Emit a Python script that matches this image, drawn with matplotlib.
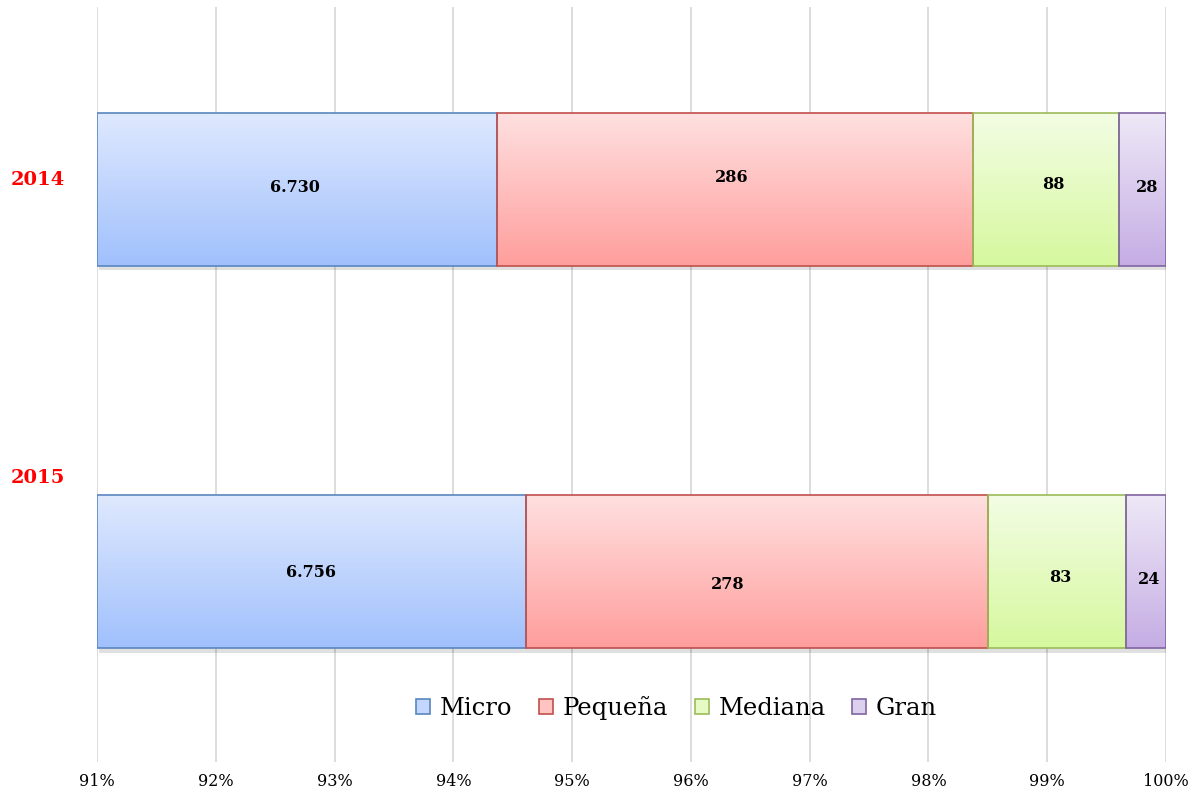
import matplotlib
matplotlib.use("Agg")
import matplotlib.pyplot as plt
import numpy as np
from matplotlib.patches import Rectangle, Patch
from matplotlib.colors import LinearSegmentedColormap

years = ["2014", "2015"]
categories = ["Micro", "Pequeña", "Mediana", "Gran"]
micro = [6730, 6756]
pequena = [286, 278]
mediana = [88, 83]
gran = [28, 24]
labels_2014 = ["6.730", "286", "88", "28"]
labels_2015 = ["6.756", "278", "83", "24"]
xticks = [91, 92, 93, 94, 95, 96, 97, 98, 99, 100]

series = [micro, pequena, mediana, gran]
bar_labels = [labels_2014, labels_2015]

# styling
top_colors = ["#dfe9fe", "#ffe0e0", "#f3fde4", "#eee8f7"]
bot_colors = ["#a0c0fc", "#fe9e9c", "#d6f89e", "#c5ade4"]
mid_colors = ["#c3d6fd", "#ffc3c2", "#e6fbc4", "#dcd0ef"]
edge_colors = ["#5a86c0", "#c0504d", "#9bbb59", "#8064a2"]
# label offsets in points (dx, dy), upward positive
label_offsets = [[(-1, 1), (-2, 8), (5, 3), (3, 1)],
                 [(0, -1), (-21, -9), (2, -4), (2, -6)]]

plt.rcParams['font.family'] = ['DejaVu Serif', 'Liberation Serif']

fig = plt.figure(figsize=(11.99, 7.95), dpi=100)
ax = fig.add_axes([97/1199, 1-762/795, (1166-97)/1199, (762-7)/795])

totals = np.array(micro) + np.array(pequena) + np.array(mediana) + np.array(gran)
bar_h = 0.4
ax.set_xlim(91, 100)
ax.set_ylim(1.498, -0.476)

for yi in range(len(years)):
    left = 0.0
    for ci, s in enumerate(series):
        frac = s[yi] / totals[yi] * 100
        x0 = left
        x1 = left + frac
        left = x1
        vx0 = max(x0, 91)
        if x1 <= 91:
            continue
        y0 = yi - bar_h / 2
        y1 = yi + bar_h / 2
        # shadow
        ax.add_patch(Rectangle((vx0 + 0.02, y0 + 0.012), x1 - vx0, bar_h,
                               facecolor="#000000", alpha=0.12, edgecolor="none", zorder=2))
        cmap = LinearSegmentedColormap.from_list("g", [top_colors[ci], bot_colors[ci]])
        grad = np.linspace(0, 1, 256).reshape(-1, 1)
        ax.imshow(grad, cmap=cmap, aspect="auto", extent=(vx0, x1, y1, y0),
                  zorder=3, interpolation="bilinear")
        ax.add_patch(Rectangle((vx0, y0), x1 - vx0, bar_h, facecolor="none",
                               edgecolor=edge_colors[ci], linewidth=1.2, zorder=4))
        dx, dy = label_offsets[yi][ci]
        ax.annotate(bar_labels[yi][ci], xy=((vx0 + x1) / 2, yi), xytext=(dx, dy),
                    textcoords="offset points", ha="center", va="center",
                    fontsize=11.5, fontweight="bold", color="black", zorder=5)

ax.set_xlim(91, 100)
ax.set_ylim(1.498, -0.476)
ax.set_xticks(xticks)
ax.set_xticklabels([f"{t}%" for t in xticks], fontsize=11.5)
ax.tick_params(axis="x", length=0, pad=8)
ax.set_yticks([])
ax.grid(axis="x", color="#d9d9d9", linewidth=1.3, zorder=0)
ax.set_axisbelow(True)
for sp in ax.spines.values():
    sp.set_visible(False)

fig.text(38/1199, 1-180/795, years[0], color="#ff0000", fontsize=14, fontweight="bold",
         ha="center", va="center")
fig.text(38/1199, 1-478/795, years[1], color="#ff0000", fontsize=14, fontweight="bold",
         ha="center", va="center")

handles = [Patch(facecolor=mid_colors[i], edgecolor=edge_colors[i], linewidth=1.2)
           for i in range(4)]
leg = ax.legend(handles, categories, loc="center", bbox_to_anchor=(0.542, 0.0715),
                ncol=4, frameon=False, fontsize=17.5, handlelength=0.58, handleheight=0.58,
                handletextpad=0.4, columnspacing=1.1)

fig.savefig("out.png", dpi=100)
